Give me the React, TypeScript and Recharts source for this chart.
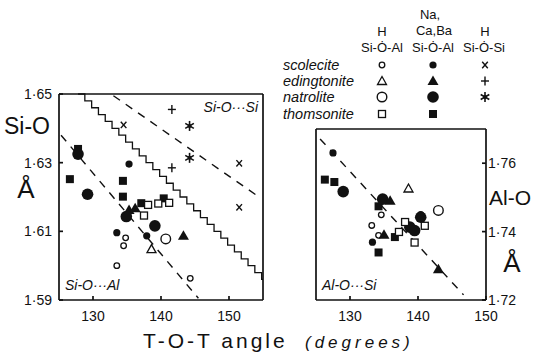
import React from 'react';
import { ComposedChart, Scatter, Line, XAxis, YAxis } from 'recharts';

// T-O-T angle (degrees) tick values
const ANGLE_TICKS = [130, 140, 150];
const SIO_TICKS = [1.59, 1.61, 1.63, 1.65];
const ALO_TICKS = [1.72, 1.74, 1.76];

// ---- Si-O panel ----
const sioScoleciteH = [
  { x: 134.8, y: 1.6081 }, { x: 134.5, y: 1.6058 }, { x: 133.5, y: 1.6 }, { x: 144.3, y: 1.5963 },
];
const sioScoleciteNa = [{ x: 135.3, y: 1.6296 }, { x: 133.5, y: 1.6096 }, { x: 137.9, y: 1.6087 }];
const sioScoleciteSi = [{ x: 134.5, y: 1.641 }, { x: 151.5, y: 1.6298 }, { x: 151.5, y: 1.617 }];
const sioEdingtoniteH = [{ x: 138.6, y: 1.6048 }];
const sioEdingtoniteNa = [{ x: 135.3, y: 1.6162 }, { x: 136.2, y: 1.6167 }, { x: 143.3, y: 1.6087 }];
const sioEdingtoniteSi = [{ x: 141.6, y: 1.6455 }, { x: 141.6, y: 1.6285 }];
const sioNatroliteH = [{ x: 140.7, y: 1.6078 }];
const sioNatroliteNa = [
  { x: 127.8, y: 1.6325 }, { x: 129.2, y: 1.6208 }, { x: 134.9, y: 1.6143 }, { x: 139.1, y: 1.6116 },
];
const sioNatroliteSi = [{ x: 144.2, y: 1.6407 }, { x: 144.2, y: 1.6314 }];
const sioThomsoniteH = [
  { x: 138.1, y: 1.6177 }, { x: 139.6, y: 1.6181 }, { x: 141.2, y: 1.6183 }, { x: 137.5, y: 1.6146 },
];
const sioThomsoniteNa = [
  { x: 127.8, y: 1.634 }, { x: 126.6, y: 1.6252 }, { x: 134.4, y: 1.6247 }, { x: 134.4, y: 1.6201 },
  { x: 137.1, y: 1.6182 }, { x: 140.4, y: 1.6196 },
];
const sioAlLine = [{ x: 125.3, y: 1.638 }, { x: 145.5, y: 1.5905 }];
const sioSiLine = [{ x: 133.0, y: 1.6495 }, { x: 154.7, y: 1.6196 }];
const sioBoundary = [
  { x: 127.8, y: 1.65 }, { x: 128.8, y: 1.648 }, { x: 129.8, y: 1.646 }, { x: 130.8, y: 1.644 },
  { x: 131.8, y: 1.642 }, { x: 132.8, y: 1.64 }, { x: 133.8, y: 1.638 }, { x: 134.8, y: 1.636 },
  { x: 135.8, y: 1.634 }, { x: 136.8, y: 1.632 }, { x: 137.8, y: 1.63 }, { x: 138.8, y: 1.628 },
  { x: 139.8, y: 1.626 }, { x: 140.8, y: 1.624 }, { x: 141.8, y: 1.622 }, { x: 142.8, y: 1.62 },
  { x: 143.8, y: 1.618 }, { x: 144.8, y: 1.616 }, { x: 145.8, y: 1.614 }, { x: 146.8, y: 1.612 },
  { x: 147.8, y: 1.61 }, { x: 148.8, y: 1.608 }, { x: 149.8, y: 1.606 }, { x: 150.8, y: 1.604 },
  { x: 151.8, y: 1.602 }, { x: 152.8, y: 1.6 }, { x: 153.8, y: 1.598 }, { x: 154.8, y: 1.596 },
  { x: 155, y: 1.596 },
];

// ---- Al-O panel ----
const aloScoleciteH = [{ x: 134.6, y: 1.7449 }, { x: 133.2, y: 1.7418 }, { x: 134.2, y: 1.7389 }];
const aloScoleciteNa = [{ x: 127.5, y: 1.763 }, { x: 133.3, y: 1.7369 }, { x: 140.4, y: 1.745 }];
const aloEdingtoniteH = [{ x: 138.6, y: 1.7526 }];
const aloEdingtoniteNa = [{ x: 135.9, y: 1.749 }, { x: 135.0, y: 1.7391 }, { x: 143.0, y: 1.729 }];
const aloNatroliteH = [{ x: 143.0, y: 1.7462 }];
const aloNatroliteNa = [
  { x: 129.0, y: 1.7517 }, { x: 134.8, y: 1.7495 }, { x: 138.8, y: 1.7413 }, { x: 139.5, y: 1.7403 },
  { x: 140.4, y: 1.7442 },
];
const aloThomsoniteH = [
  { x: 137.2, y: 1.7399 }, { x: 138.1, y: 1.7428 }, { x: 139.5, y: 1.7368 }, { x: 141.0, y: 1.7417 },
];
const aloThomsoniteNa = [
  { x: 126.3, y: 1.7552 }, { x: 127.7, y: 1.7545 }, { x: 134.2, y: 1.7474 }, { x: 134.2, y: 1.7339 },
  { x: 136.6, y: 1.7384 },
];
const aloSiLine = [{ x: 125.6, y: 1.7671 }, { x: 146.7, y: 1.7215 }];

const INK = '#111';
const FONT = '"Liberation Sans", Arial, sans-serif';

type Kind = 'oS' | 'fS' | 'oL' | 'fL' | 'oT' | 'fT' | 'oQ' | 'fQ' | 'x' | 'plus' | 'star';

function Mark({ cx, cy, kind }: { cx: number; cy: number; kind: Kind }) {
  switch (kind) {
    case 'oS':
      return <circle cx={cx} cy={cy} r={2.8} fill="#fff" stroke={INK} strokeWidth={1.3} />;
    case 'fS':
      return <circle cx={cx} cy={cy} r={3.6} fill={INK} />;
    case 'oL':
      return <circle cx={cx} cy={cy} r={4.8} fill="#fff" stroke={INK} strokeWidth={1.4} />;
    case 'fL':
      return <circle cx={cx} cy={cy} r={5.8} fill={INK} />;
    case 'oT':
      return (
        <path d={`M${cx},${cy - 4.5}L${cx + 4.5},${cy + 3.5}L${cx - 4.5},${cy + 3.5}Z`}
          fill="#fff" stroke={INK} strokeWidth={1.3} />
      );
    case 'fT':
      return <path d={`M${cx},${cy - 5.5}L${cx + 5.5},${cy + 4}L${cx - 5.5},${cy + 4}Z`} fill={INK} />;
    case 'oQ':
      return <rect x={cx - 3.5} y={cy - 3.5} width={7} height={7} fill="#fff" stroke={INK} strokeWidth={1.3} />;
    case 'fQ':
      return <rect x={cx - 4} y={cy - 4} width={8} height={8} fill={INK} />;
    case 'x':
      return (
        <g stroke={INK} strokeWidth={1.4}>
          <line x1={cx - 2.8} y1={cy - 3.2} x2={cx + 2.8} y2={cy + 3.2} />
          <line x1={cx + 2.8} y1={cy - 3.2} x2={cx - 2.8} y2={cy + 3.2} />
        </g>
      );
    case 'plus':
      return (
        <g stroke={INK} strokeWidth={1.4}>
          <line x1={cx - 4} y1={cy} x2={cx + 4} y2={cy} />
          <line x1={cx} y1={cy - 4.5} x2={cx} y2={cy + 4.5} />
        </g>
      );
    case 'star':
      return (
        <g stroke={INK} strokeWidth={1.6}>
          <line x1={cx} y1={cy - 5} x2={cx} y2={cy + 5} />
          <line x1={cx - 4.3} y1={cy - 2.5} x2={cx + 4.3} y2={cy + 2.5} />
          <line x1={cx + 4.3} y1={cy - 2.5} x2={cx - 4.3} y2={cy + 2.5} />
          <circle cx={cx} cy={cy} r={2} fill={INK} stroke="none" />
        </g>
      );
    default:
      return null;
  }
}

const shape = (kind: Kind) => (p: any) => <Mark cx={p.cx} cy={p.cy} kind={kind} />;
const dot = (v: number) => v.toFixed(2).replace('.', '·');
const tickStyle = { fill: INK, fontSize: 14, fontFamily: FONT };
const axisStroke = { stroke: INK, strokeWidth: 1.7 };

function LeftPanel() {
  return (
    <ComposedChart width={280} height={340} margin={{ top: 93, right: 16, bottom: 20, left: 9 }}>
      <XAxis dataKey="x" type="number" domain={[125, 155]} ticks={ANGLE_TICKS} height={20}
        tickSize={-4} tickMargin={15} tick={tickStyle} axisLine={axisStroke} tickLine={axisStroke} />
      <XAxis xAxisId="top" orientation="top" type="number" domain={[125, 155]} ticks={ANGLE_TICKS}
        height={1} tick={false} tickSize={-4} axisLine={axisStroke} tickLine={axisStroke} />
      <YAxis dataKey="y" type="number" domain={[1.59, 1.65]} ticks={SIO_TICKS} width={50}
        tickSize={-4} tickMargin={11} tick={tickStyle} tickFormatter={dot}
        axisLine={axisStroke} tickLine={axisStroke} />
      <YAxis yAxisId="r" orientation="right" type="number" domain={[1.59, 1.65]} ticks={SIO_TICKS}
        width={1} tick={false} tickSize={-4} axisLine={axisStroke} tickLine={axisStroke} />
      <Line data={sioBoundary} dataKey="y" type="stepAfter" stroke={INK} strokeWidth={1.3}
        dot={false} isAnimationActive={false} />
      <Line data={sioAlLine} dataKey="y" stroke={INK} strokeWidth={1.4} strokeDasharray="8 7"
        dot={false} isAnimationActive={false} />
      <Line data={sioSiLine} dataKey="y" stroke={INK} strokeWidth={1.4} strokeDasharray="8 7"
        dot={false} isAnimationActive={false} />
      <Scatter data={sioThomsoniteNa} shape={shape('fQ')} isAnimationActive={false} />
      <Scatter data={sioNatroliteNa} shape={shape('fL')} isAnimationActive={false} />
      <Scatter data={sioThomsoniteH} shape={shape('oQ')} isAnimationActive={false} />
      <Scatter data={sioNatroliteH} shape={shape('oL')} isAnimationActive={false} />
      <Scatter data={sioScoleciteH} shape={shape('oS')} isAnimationActive={false} />
      <Scatter data={sioScoleciteNa} shape={shape('fS')} isAnimationActive={false} />
      <Scatter data={sioEdingtoniteH} shape={shape('oT')} isAnimationActive={false} />
      <Scatter data={sioEdingtoniteNa} shape={shape('fT')} isAnimationActive={false} />
      <Scatter data={sioScoleciteSi} shape={shape('x')} isAnimationActive={false} />
      <Scatter data={sioEdingtoniteSi} shape={shape('plus')} isAnimationActive={false} />
      <Scatter data={sioNatroliteSi} shape={shape('star')} isAnimationActive={false} />
    </ComposedChart>
  );
}

function RightPanel() {
  return (
    <ComposedChart width={234} height={340} margin={{ top: 128, right: 8, bottom: 20, left: 15 }}>
      <XAxis dataKey="x" type="number" domain={[125, 150]} ticks={ANGLE_TICKS} height={20}
        tickSize={-4} tickMargin={15} tick={tickStyle} axisLine={axisStroke} tickLine={axisStroke} />
      <XAxis xAxisId="top" orientation="top" type="number" domain={[125, 150]} ticks={ANGLE_TICKS}
        height={1} tick={false} tickSize={-4} axisLine={axisStroke} tickLine={axisStroke} />
      <YAxis dataKey="y" orientation="right" type="number" domain={[1.72, 1.77]} ticks={ALO_TICKS}
        width={40} tickSize={-4} tickMargin={6} tick={tickStyle} tickFormatter={dot}
        axisLine={axisStroke} tickLine={axisStroke} />
      <YAxis yAxisId="l" orientation="left" type="number" domain={[1.72, 1.77]} ticks={ALO_TICKS}
        width={1} tick={false} tickSize={-4} axisLine={axisStroke} tickLine={axisStroke} />
      <Line data={aloSiLine} dataKey="y" stroke={INK} strokeWidth={1.4} strokeDasharray="8 7"
        dot={false} isAnimationActive={false} />
      <Scatter data={aloThomsoniteNa} shape={shape('fQ')} isAnimationActive={false} />
      <Scatter data={aloNatroliteNa} shape={shape('fL')} isAnimationActive={false} />
      <Scatter data={aloThomsoniteH} shape={shape('oQ')} isAnimationActive={false} />
      <Scatter data={aloNatroliteH} shape={shape('oL')} isAnimationActive={false} />
      <Scatter data={aloScoleciteH} shape={shape('oS')} isAnimationActive={false} />
      <Scatter data={aloScoleciteNa} shape={shape('fS')} isAnimationActive={false} />
      <Scatter data={aloEdingtoniteH} shape={shape('oT')} isAnimationActive={false} />
      <Scatter data={aloEdingtoniteNa} shape={shape('fT')} isAnimationActive={false} />
    </ComposedChart>
  );
}

const LEGEND_ROWS: { name: string; kinds: (Kind | null)[] }[] = [
  { name: 'scolecite', kinds: ['oS', 'fS', 'x'] },
  { name: 'edingtonite', kinds: ['oT', 'fT', 'plus'] },
  { name: 'natrolite', kinds: ['oL', 'fL', 'star'] },
  { name: 'thomsonite', kinds: ['oQ', 'fQ', null] },
];
const LEGEND_COLS = [382, 433, 485];
const LEGEND_Y = [65, 81, 97, 114];

function Overlay() {
  const t = { fontFamily: FONT, fill: INK };
  return (
    <svg width={534} height={358} style={{ position: 'absolute', left: 0, top: 0, pointerEvents: 'none' }}>
      {/* column headers */}
      <g {...t} fontSize={13} textAnchor="middle">
        <text x={382} y={36}>H</text>
        <text x={382} y={52}>Si-Ȯ-Al</text>
        <text x={430} y={19}>Na,</text>
        <text x={434} y={35}>Ca,Ba</text>
        <text x={433} y={52}>Si-Ȯ-Al</text>
        <text x={485} y={36}>H</text>
        <text x={484} y={52}>Si-Ȯ-Si</text>
      </g>
      {LEGEND_ROWS.map((row, i) => (
        <g key={row.name}>
          <text x={283} y={LEGEND_Y[i] + 5} fontSize={14.5} fontStyle="italic" {...t}>{row.name}</text>
          {row.kinds.map((k, j) => (k ? <Mark key={j} cx={LEGEND_COLS[j]} cy={LEGEND_Y[i]} kind={k} /> : null))}
        </g>
      ))}
      {/* panel annotations */}
      <g {...t} fontSize={14} fontStyle="italic">
        <text x={258} y={112} textAnchor="end">Si-O···Si</text>
        <text x={65} y={290}>Si-O···Al</text>
        <text x={322} y={290}>Al-O···Si</text>
      </g>
      {/* axis titles */}
      <text x={4} y={134} fontSize={23} {...t}>Si-O</text>
      <text x={531} y={205} fontSize={21} textAnchor="end" {...t}>Al-O</text>
      <g {...t} fontSize={26} textAnchor="middle">
        <text x={26} y={198}>Å</text>
        <text x={512} y={272}>Å</text>
      </g>
      <text x={143} y={348} fontSize={21} letterSpacing={3} {...t}>T-O-T angle</text>
      <text x={305} y={348} fontSize={17} fontStyle="italic" letterSpacing={4} {...t}>(degrees)</text>
    </svg>
  );
}

export default function App() {
  return (
    <div style={{ position: 'absolute', left: 0, top: 0, width: 534, height: 358, background: '#fff' }}>
      <div style={{ position: 'absolute', left: 0, top: 0 }}>
        <LeftPanel />
      </div>
      <div style={{ position: 'absolute', left: 300, top: 0 }}>
        <RightPanel />
      </div>
      <Overlay />
    </div>
  );
}
